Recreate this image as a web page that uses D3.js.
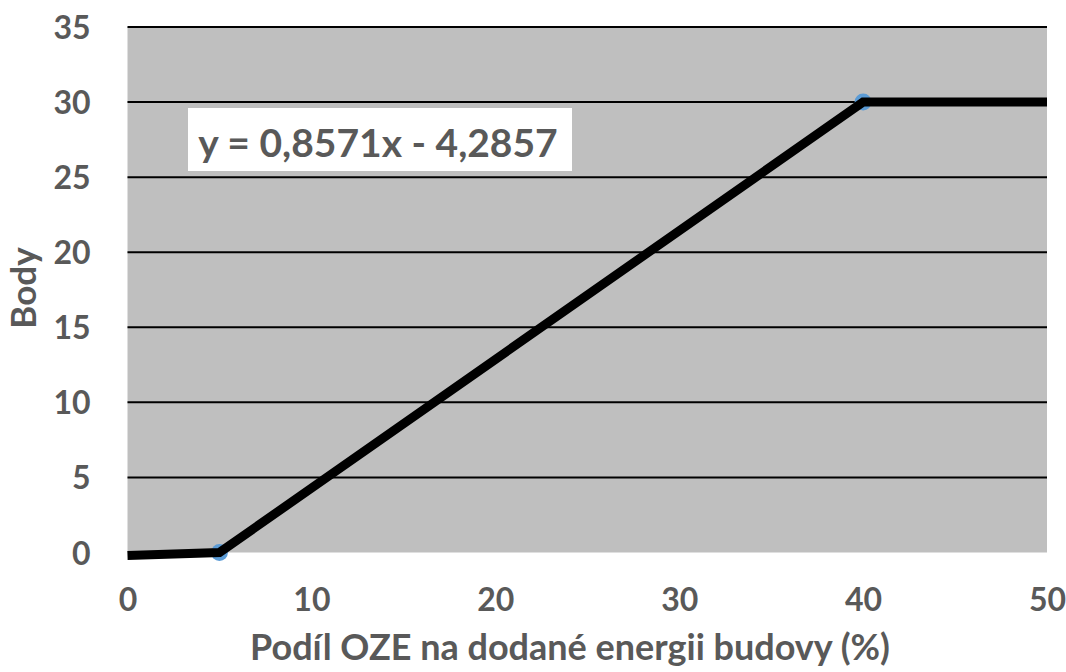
<!DOCTYPE html>
<html>
<head>
<meta charset="utf-8">
<script src="https://cdn.jsdelivr.net/npm/d3@7"></script>
<style>
  body { margin: 0; background: #fff; }
  svg { display: block; font-family: Lato, "Open Sans", sans-serif; font-weight: bold; }
</style>
</head>
<body>
<svg width="1066" height="672"></svg>
<script>
// data
var xValues = [0, 5, 40, 50];
var yValues = [-0.2, 0, 30, 30];
var markerX = [5, 40];
var markerY = [0, 30];
var xTicks = [0, 10, 20, 30, 40, 50];
var yTicks = [0, 5, 10, 15, 20, 25, 30, 35];
var gridTicks = [5, 10, 15, 20, 25, 30, 35];
var equation = "y = 0,8571x - 4,2857";
var xTitle = "Podíl OZE na dodané energii budovy (%)";
var yTitle = "Body";

var svg = d3.select("svg");
var plotLeft = 127.5, plotRight = 1047, plotTop = 27, plotBottom = 552.5;
var xScale = d3.scaleLinear().domain([0, 50]).range([plotLeft, plotRight]);
var yScale = d3.scaleLinear().domain([0, 35]).range([plotBottom, plotTop]);
var textColor = "#595959";

svg.append("rect")
    .attr("x", plotLeft).attr("y", plotTop)
    .attr("width", plotRight - plotLeft).attr("height", plotBottom - plotTop)
    .attr("fill", "#bfbfbf");

svg.append("g").selectAll("line")
    .data(gridTicks)
    .enter().append("line")
    .attr("x1", plotLeft).attr("x2", plotRight)
    .attr("y1", function (d) { return yScale(d); })
    .attr("y2", function (d) { return yScale(d); })
    .attr("stroke", "#000").attr("stroke-width", 2);

// axes, only labels shown
var yaxis = svg.append("g")
    .attr("transform", "translate(" + (plotLeft - 37) + ",0)")
    .call(d3.axisLeft(yScale).tickValues(yTicks).tickSize(0).tickPadding(0));
var xaxis = svg.append("g")
    .attr("transform", "translate(0," + (plotBottom + 37) + ")")
    .call(d3.axisBottom(xScale).tickValues(xTicks).tickSize(0).tickPadding(0));
[xaxis, yaxis].forEach(function (a) {
    a.select(".domain").remove();
    a.selectAll("text")
        .attr("fill", textColor)
        .style("font-family", "Lato, sans-serif")
        .style("font-weight", "bold")
        .style("font-size", "32px");
});
yaxis.selectAll("text").attr("dy", "0.36em");
xaxis.selectAll("text").attr("dy", "0.66em");

var pts = xValues.map(function (d, i) { return [d, yValues[i]]; });
var mpts = markerX.map(function (d, i) { return [d, markerY[i]]; });

svg.append("g").selectAll("circle")
    .data(mpts)
    .enter().append("circle")
    .attr("cx", function (d) { return xScale(d[0]); })
    .attr("cy", function (d) { return yScale(d[1]); })
    .attr("r", 8.5)
    .attr("fill", "#5b9bd5");

var line = d3.line()
    .x(function (d) { return xScale(d[0]); })
    .y(function (d) { return yScale(d[1]); });
svg.append("path")
    .datum(pts)
    .attr("d", line)
    .attr("fill", "none")
    .attr("stroke", "#000")
    .attr("stroke-width", 9)
    .attr("stroke-linejoin", "miter");

// trendline label
svg.append("rect")
    .attr("x", 188).attr("y", 108)
    .attr("width", 384).attr("height", 63)
    .attr("fill", "#fff");
svg.append("text")
    .attr("x", 378).attr("y", 157)
    .attr("text-anchor", "middle")
    .attr("fill", textColor)
    .style("font-size", "39px")
    .text(equation);

svg.append("text")
    .attr("x", 570).attr("y", 660)
    .attr("text-anchor", "middle")
    .attr("fill", textColor)
    .style("font-size", "36px")
    .text(xTitle);

svg.append("text")
    .attr("transform", "translate(36,288) rotate(-90)")
    .attr("text-anchor", "middle")
    .attr("fill", textColor)
    .style("font-size", "35px")
    .text(yTitle);
</script>
</body>
</html>
